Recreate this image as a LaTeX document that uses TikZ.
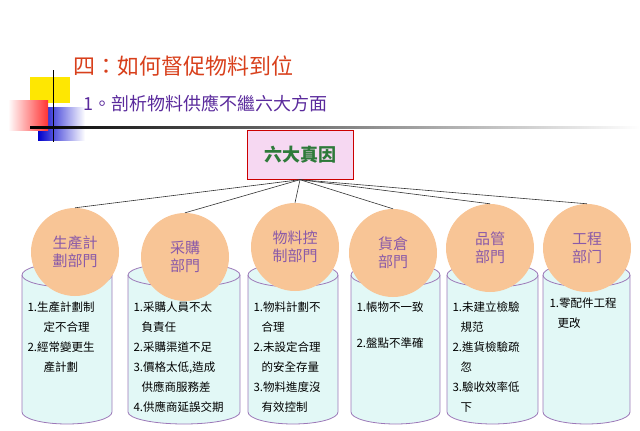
\documentclass[tikz,border=0pt]{standalone}
\usepackage{fontspec}
\setmainfont{Noto Sans CJK TC}
\usetikzlibrary{positioning}
\definecolor{titlered}{HTML}{D8401C}
\definecolor{subpurple}{HTML}{5A2A9C}
\definecolor{cylfill}{HTML}{E2F8F6}
\definecolor{cylline}{HTML}{9C78B8}
\definecolor{ballfill}{HTML}{F8C596}
\definecolor{balltext}{HTML}{8A5AA8}
\definecolor{boxfill}{HTML}{F6D8F2}
\definecolor{boxgreen}{HTML}{2E7A3A}

\tikzset{
  cyl/.style={draw=cylline, fill=cylfill, line width=0.8pt},
  ball/.style={circle, fill=ballfill, minimum size=88pt, inner sep=0pt,
    text=balltext, font=\fontsize{15}{18}\selectfont, align=center},
  items/.style={anchor=north west, text=black, align=left,
    font=\fontsize{11.5}{20}\selectfont},
  link/.style={draw=black!80, line width=0.6pt}
}

% cylinder: left x, right x
\newcommand{\cylinder}[2]{%
  \draw[cyl] (#1,275) -- (#1,412) arc[start angle=180,end angle=0,x radius={(#2-#1)/2},y radius=12] -- (#2,275);
  \draw[cyl] ({(#1+#2)/2},275) ellipse [x radius={(#2-#1)/2},y radius=12];
}

\begin{document}
\begin{tikzpicture}[x=1pt,y=-1pt]
  \useasboundingbox (0,0) rectangle (640,431);

  % Decoracion del titulo
  \fill[yellow!90!orange] (30,77) rectangle (70,103);
  \shade[left color=blue!80!black, right color=white] (38,107) rectangle (85,140);
  \shade[left color=white, right color=red!80] (8,100) rectangle (48,130);
  \draw[line width=1pt] (53,70) -- (53,142);
  \shade[left color=black, right color=white] (30,126) rectangle (640,128);

  % Titulos
  \node[anchor=west, text=titlered, font=\fontsize{22}{25}\selectfont] (title) at (70,66) {四：如何督促物料到位};
  \node[anchor=west, text=subpurple, font=\fontsize{18}{21}\selectfont] (subtitle) at (80,103) {1。剖析物料供應不繼六大方面};

  % Caja central
  \node[draw=red!80!black, fill=boxfill, minimum width=106pt, minimum height=49pt,
    text=boxgreen, font=\fontsize{18}{21}\selectfont\bfseries] (root) at (300,155) {六大真因};

  % Columnas
  \cylinder{22}{112}
  \cylinder{128}{240}
  \cylinder{248}{338}
  \cylinder{351}{440}
  \cylinder{447}{538}
  \cylinder{543}{630}

  \node[ball] (prod) at (75,252) {生產計\\劃部門};
  \node[ball] (buy) at (185,257) {采購\\部門};
  \node[ball] (mat) at (295,247) {物料控\\制部門};
  \node[ball] (store) at (393,253) {貨倉\\部門};
  \node[ball] (qc) at (490,248) {品管\\部門};
  \node[ball] (eng) at (587,248) {工程\\部门};

  \foreach \d in {prod,buy,mat,store,qc,eng}
    \draw[link] (root.south) -- (\d.north);

  % Problemas
  \node[items] (prodlist) at (24,298) {1.生產計劃制\\\hspace*{1.4em}定不合理\\2.經常變更生\\\hspace*{1.4em}產計劃};
  \node[items] (buylist) at (130,298) {1.采購人員不太\\\hspace*{0.7em}負責任\\2.采購渠道不足\\3.價格太低,造成\\\hspace*{0.7em}供應商服務差\\4.供應商延誤交期};
  \node[items] (matlist) at (250,298) {1.物料計劃不\\\hspace*{0.7em}合理\\2.未設定合理\\\hspace*{0.7em}的安全存量\\3.物料進度沒\\\hspace*{0.7em}有效控制};
  \node[items, font=\fontsize{11.5}{24}\selectfont] (storelist) at (353,298) {1.帳物不一致\\[12pt]2.盤點不準確};
  \node[items] (qclist) at (449,298) {1.未建立檢驗\\\hspace*{0.7em}規范\\2.進貨檢驗疏\\\hspace*{0.7em}忽\\3.驗收效率低\\\hspace*{0.7em}下};
  \node[items] (englist) at (546,294) {1.零配件工程\\\hspace*{0.7em}更改};
\end{tikzpicture}
\end{document}
